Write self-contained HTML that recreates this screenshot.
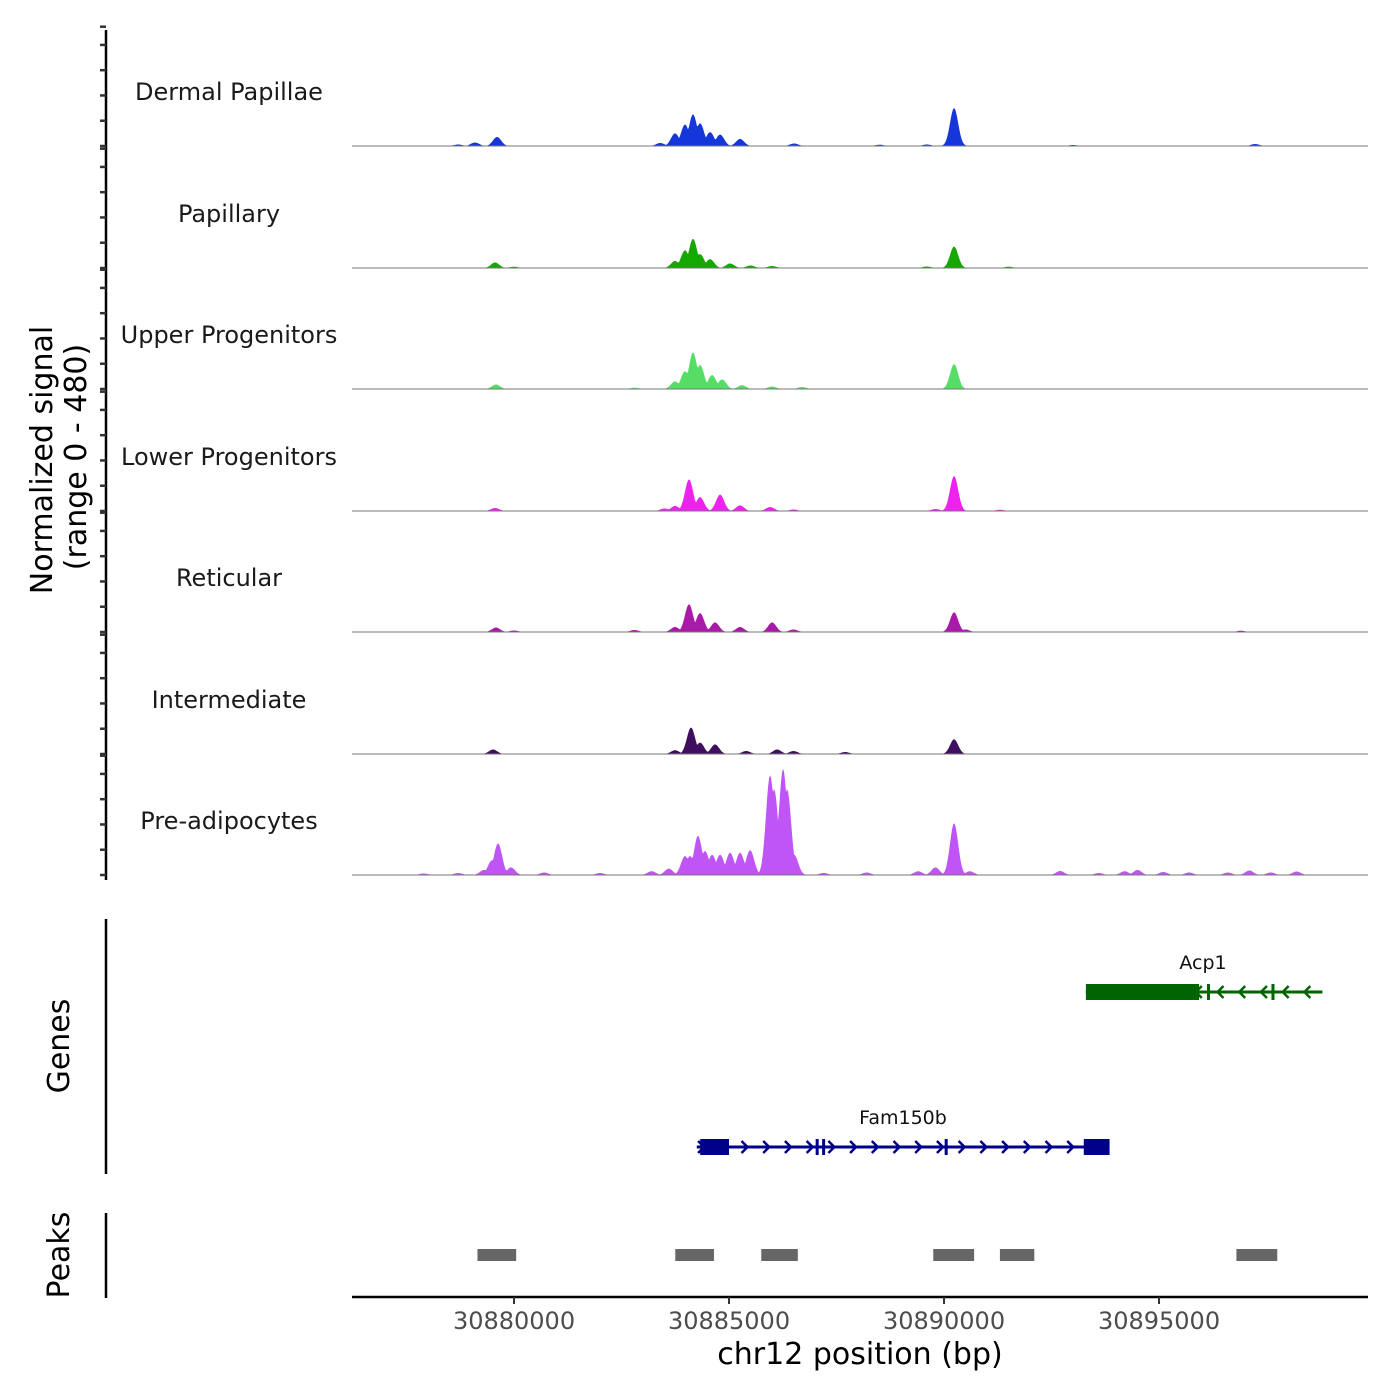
<!DOCTYPE html>
<html><head><meta charset="utf-8"><style>
html,body{margin:0;padding:0;background:#fff;}
svg{display:block;font-family:"DejaVu Sans","Liberation Sans",sans-serif;}
</style></head><body>
<svg id="chart" width="1400" height="1400" viewBox="0 0 1400 1400" xmlns="http://www.w3.org/2000/svg">
<g id="tracks"></g>
<g id="genes"></g>
<g id="peaks"></g>
<g id="axes"></g>
</svg>
<script>
const trackNames=["Dermal Papillae","Papillary","Upper Progenitors","Lower Progenitors","Reticular","Intermediate","Pre-adipocytes"];
const trackColors=["#1536d8","#14a800","#55dd66","#ee22ee","#aa1aa8","#3d0f5e","#bf55f5"];
const dpPeaks=[[30878700,6],[30879093,14],[30879605,36],[30883400,12],[30883745,50],[30883977,85],[30884163,125],[30884326,90],[30884559,55],[30884792,45],[30885257,28],[30886513,10],[30888500,5],[30889600,6],[30890234,150],[30893000,4],[30897236,8]];
const papPeaks=[[30879560,22],[30880000,5],[30883745,28],[30883977,70],[30884163,115],[30884326,55],[30884559,35],[30885025,18],[30885500,10],[30886000,8],[30889600,6],[30890234,85],[30891500,5]];
const upPeaks=[[30879580,18],[30882800,5],[30883745,30],[30883977,70],[30884163,145],[30884326,95],[30884606,55],[30884839,38],[30885300,15],[30886000,10],[30886700,8],[30890234,98]];
const lowPeaks=[[30879560,12],[30883500,10],[30883745,20],[30884070,125],[30884326,55],[30884792,65],[30885257,22],[30885955,16],[30886500,6],[30889800,8],[30890234,138],[30891300,5]];
const retPeaks=[[30879580,18],[30880000,6],[30882800,8],[30883745,20],[30884070,110],[30884326,75],[30884676,38],[30885257,20],[30886002,38],[30886500,10],[30890234,78],[30890500,10],[30896900,5]];
const intPeaks=[[30879512,18],[30883745,15],[30884116,105],[30884326,45],[30884676,38],[30885400,12],[30886118,18],[30886500,12],[30887700,8],[30890234,58]];
const prePeaks=[[30877900,6],[30878700,8],[30879300,20],[30879488,58],[30879628,125],[30879930,30],[30880700,10],[30882000,8],[30883200,15],[30883600,25],[30883977,75],[30884093,75],[30884279,155],[30884442,95],[30884606,80],[30884792,80],[30885025,88],[30885257,88],[30885490,98],[30885955,395],[30886048,340],[30886257,420],[30886350,340],[30886513,80],[30887200,8],[30888200,10],[30889400,15],[30889800,30],[30890234,205],[30890600,15],[30892700,16],[30893600,8],[30894200,15],[30894500,20],[30895100,12],[30895700,10],[30896600,10],[30897100,18],[30897600,10],[30898200,14]];
const allPeaks=[dpPeaks,papPeaks,upPeaks,lowPeaks,retPeaks,intPeaks,prePeaks];
const xTicks=[30880000,30885000,30890000,30895000];
const peakRegions=[[30879150,30880050],[30883750,30884650],[30885750,30886600],[30889750,30890700],[30891300,30892100],[30896800,30897750]];
const NS="http://www.w3.org/2000/svg";
const X0=352,X1=1368,BP0=30876232,BPPX=23.256;
function xs(bp){return X0+(bp-BP0)/BPPX;}
const baselines=[146,268,389,511,632,754,875];
const TH=121.3, YMAX=480;
function ys(v,i){return baselines[i]-v/YMAX*TH;}
function mk(tag,attrs,parent){const e=document.createElementNS(NS,tag);for(const k in attrs)e.setAttribute(k,attrs[k]);parent.appendChild(e);return e;}
const gT=document.getElementById('tracks');
allPeaks.forEach((pk,i)=>{
  const g=mk('g',{},gT);
  
  
  let d='M'+X0+','+baselines[i];
  for(let x=X0;x<=X1;x+=1){
    const bp=BP0+(x-X0)*BPPX;let v=0;
    pk.forEach(p=>{const s=95;const z=(bp-p[0])/s;v=Math.max(v,p[1]*Math.exp(-0.5*z*z));});
    d+='L'+x+','+ys(v,i).toFixed(1);
  }
  d+='L'+X1+','+baselines[i]+'Z';
  const a=mk('path',{d:d,fill:trackColors[i]},g);
  
  
  const l=mk('line',{x1:X0,x2:X1,y1:baselines[i],y2:baselines[i],stroke:'#777','stroke-width':1},g);
  
  
  const t=mk('text',{x:229,y:baselines[i]-46,'text-anchor':'middle','font-size':24,fill:'#1a1a1a'},g);
  t.textContent=trackNames[i];
  
  
});
const gG=document.getElementById('genes');
function gene(name,color,y,s,e,boxes,marks,dir,labelX){
  const g=mk('g',{},gG);
  
  
  mk('line',{x1:xs(s),x2:xs(e),y1:y,y2:y,stroke:color,'stroke-width':3},g);
  boxes.forEach(b=>mk('rect',{x:xs(b[0]),y:y-8,width:xs(b[1])-xs(b[0]),height:16,fill:color},g));
  marks.forEach(m=>mk('line',{x1:xs(m),x2:xs(m),y1:y-8,y2:y+8,stroke:color,'stroke-width':3},g));
  for(let bp=s+100;bp<e;bp+=505){
    const x=xs(bp);
    mk('path',{d:dir>0?`M${x-3},${y-6}L${x+3},${y}L${x-3},${y+6}`:`M${x+3},${y-6}L${x-3},${y}L${x+3},${y+6}`,stroke:color,'stroke-width':2.5,fill:'none'},g);
  }
  const t=mk('text',{x:labelX,y:y-23,'text-anchor':'middle','font-size':19,fill:'#111'},g);
  t.textContent=name;
}
gene('Acp1','#006400',992,30893300,30898800,[[30893300,30895930]],[30896150,30897650],-1,1203);
gene('Fam150b','#00008b',1147,30884250,30893850,[[30884330,30885000],[30893250,30893850]],[30887050,30887200,30890050],1,903);
const gP=document.getElementById('peaks');
peakRegions.forEach(r=>{
  const rc=mk('rect',{x:xs(r[0]),y:1249,width:xs(r[1])-xs(r[0]),height:12,fill:'#666'},gP);
  
  
});
const gA=document.getElementById('axes');
mk('line',{x1:106,x2:106,y1:30,y2:880,stroke:'#000','stroke-width':2.5},gA);
baselines.forEach((b,i)=>{for(let v=0;v<=480;v+=100){const y=ys(v,i);mk('line',{x1:100,x2:106,y1:y,y2:y,stroke:'#333','stroke-width':2.5},gA);}
  mk('line',{x1:100,x2:106,y1:b-TH+2,y2:b-TH+2,stroke:'#333','stroke-width':2.5},gA);});
mk('line',{x1:106,x2:106,y1:919,y2:1174,stroke:'#000','stroke-width':2.5},gA);
mk('line',{x1:106,x2:106,y1:1213,y2:1298,stroke:'#000','stroke-width':2.5},gA);
mk('line',{x1:352,x2:1368,y1:1297,y2:1297,stroke:'#000','stroke-width':2.5},gA);
xTicks.forEach(t=>{const x=xs(t);mk('line',{x1:x,x2:x,y1:1297,y2:1304,stroke:'#333','stroke-width':2},gA);
  const tx=mk('text',{x:x,y:1329,'text-anchor':'middle','font-size':24,fill:'#4d4d4d'},gA);tx.textContent=t;
  
  });
function label(txt,x,y,rot,size,name){const t=mk('text',{x:x,y:y,'text-anchor':'middle','font-size':size,fill:'#000',transform:rot?`rotate(-90 ${x} ${y})`:''},gA);t.textContent=txt;
  
  }
label('chr12 position (bp)',860,1364,false,30,'x-axis-title');
label('Normalized signal',52,460,true,30,'y-axis-title');
label('(range 0 - 480)',86,457,true,30,'y-axis-subtitle');
label('Genes',69,1046,true,30,'genes-axis-title');
label('Peaks',69,1255,true,30,'peaks-axis-title');
</script>
</body></html>
